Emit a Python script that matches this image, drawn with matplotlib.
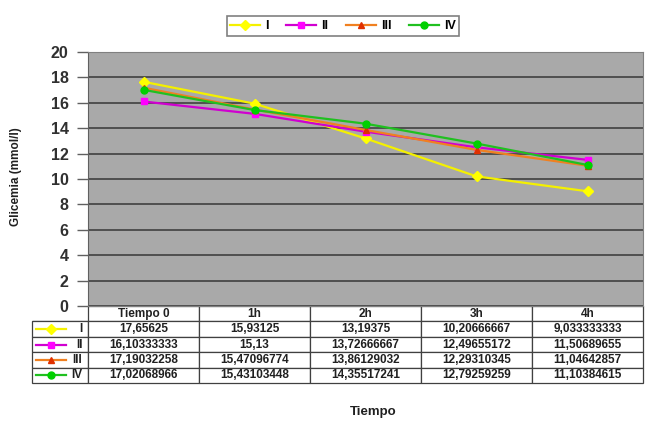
import matplotlib
matplotlib.use("Agg")
import matplotlib.pyplot as plt
from matplotlib.lines import Line2D

plt.rcParams['font.family'] = ['Liberation Sans', 'DejaVu Sans']

# data
tiempos = ["Tiempo 0", "1h", "2h", "3h", "4h"]
series_names = ["I", "II", "III", "IV"]
serie_I = [17.65625, 15.93125, 13.19375, 10.20666667, 9.033333333]
serie_II = [16.10333333, 15.13, 13.72666667, 12.49655172, 11.50689655]
serie_III = [17.19032258, 15.47096774, 13.86129032, 12.29310345, 11.04642857]
serie_IV = [17.02068966, 15.43103448, 14.35517241, 12.79259259, 11.10384615]
yticks = [0, 2, 4, 6, 8, 10, 12, 14, 16, 18, 20]

all_series = [serie_I, serie_II, serie_III, serie_IV]
line_cols = ["#f4f000", "#d000d0", "#f08020", "#20c020"]
mark_cols = ["#ffff00", "#ff00ff", "#e03000", "#00d000"]
markers = ["D", "s", "^", "o"]

W, H = 653, 423
fig = plt.figure(figsize=(W / 100, H / 100), dpi=100)
x0, x1, ytop, ybot = 88, 643, 52, 306
ax = fig.add_axes([x0 / W, 1 - ybot / H, (x1 - x0) / W, (ybot - ytop) / H])
ax.set_facecolor("#a9a9a9")

xs = list(range(len(tiempos)))
for vals, name, lc, mc, mk in zip(all_series, series_names, line_cols, mark_cols, markers):
    ax.plot(xs, vals, color=lc, lw=1.6, marker=mk, ms=5, mfc=mc, mec=mc, label=name, zorder=3)

ax.set_xlim(-0.5, len(tiempos) - 0.5)
ax.set_ylim(0, 20)
ax.set_yticks(yticks)
ax.set_xticks([])
ax.grid(axis="y", color="#404040", lw=1.2)
ax.set_axisbelow(True)
ax.tick_params(axis="y", length=8, width=1, color="#606060", labelsize=11.5, pad=6)
for lab in ax.get_yticklabels():
    lab.set_fontweight("bold")
    lab.set_color("#303030")
for s in ["top", "right", "bottom"]:
    ax.spines[s].set_color("#808080")
ax.spines["left"].set_color("#606060")

# table under the chart
lab_w = 56
cell_text = [[""] + tiempos]
for name, vals in zip(series_names, all_series):
    cell_text.append([name] + [str(v).replace(".", ",") for v in vals])
tab_h = 77
col_w = [lab_w] + [(x1 - x0) / len(tiempos)] * len(tiempos)
tbl = ax.table(cellText=cell_text, colWidths=col_w, cellLoc="center",
               bbox=[-lab_w / (x1 - x0), -tab_h / (ybot - ytop),
                     (x1 - x0 + lab_w) / (x1 - x0), tab_h / (ybot - ytop)])
tbl.auto_set_font_size(False)
for (r, c), cell in tbl.get_celld().items():
    cell.set_edgecolor("#404040")
    cell.set_linewidth(0.9)
    cell.get_text().set_fontsize(8.5)
    cell.get_text().set_fontweight("bold")
    cell.get_text().set_color("#202020")
    if r == 0 and c == 0:
        cell.visible_edges = "B"
    if c == 0 and r > 0:
        cell.get_text().set_ha("right")
        cell._loc = "right"

# legend keys in the first table column
row_h = tab_h / len(cell_text)
for i, (lc, mc, mk) in enumerate(zip(line_cols, mark_cols, markers)):
    yc = ybot + row_h * (i + 1.5)
    fig.add_artist(Line2D([36 / W, 66 / W], [1 - yc / H, 1 - yc / H], color=lc, lw=1.6))
    fig.add_artist(Line2D([51 / W], [1 - yc / H], marker=mk, ms=5, mfc=mc, mec=mc, color=lc))

fig.text(16 / W, 1 - 177 / H, "Glicemia (mmol/l)", rotation=90, ha="center", va="center",
         fontsize=8.5, fontweight="bold", color="#202020")
fig.text(373 / W, 1 - 412 / H, "Tiempo", ha="center", va="center", fontsize=9.5,
         fontweight="bold", color="#202020")

leg = fig.legend(loc="center", bbox_to_anchor=(343 / W, 1 - 26 / H), ncol=4, frameon=True,
                 fancybox=False, edgecolor="#606060", prop={"weight": "bold", "size": 9},
                 handlelength=2.4, columnspacing=1.4, handletextpad=0.4, borderpad=0.3)
leg.get_frame().set_linewidth(1.2)

fig.savefig("out.png", dpi=100, facecolor="white")
